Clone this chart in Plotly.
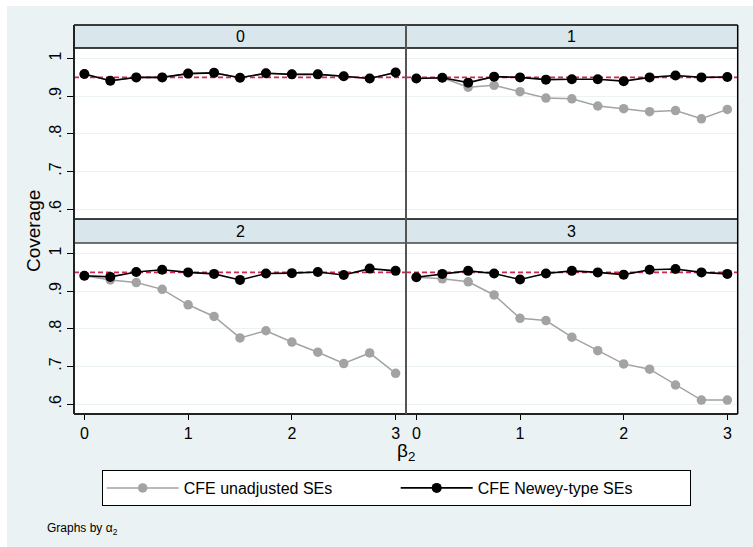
import plotly.graph_objects as go

# ---------------- data ----------------
beta2 = [0, 0.25, 0.5, 0.75, 1, 1.25, 1.5, 1.75, 2, 2.25, 2.5, 2.75, 3]
alpha_labels = ["0", "1", "2", "3"]

unadj_a0 = [0.959, 0.941, 0.950, 0.950, 0.960, 0.962, 0.949, 0.961, 0.958, 0.958, 0.953, 0.947, 0.963]
newey_a0 = [0.959, 0.941, 0.950, 0.950, 0.960, 0.962, 0.949, 0.961, 0.958, 0.958, 0.953, 0.947, 0.963]

unadj_a1 = [0.947, 0.949, 0.924, 0.929, 0.912, 0.895, 0.893, 0.874, 0.867, 0.859, 0.862, 0.840, 0.865]
newey_a1 = [0.947, 0.949, 0.936, 0.952, 0.950, 0.944, 0.945, 0.945, 0.940, 0.950, 0.955, 0.950, 0.951]

unadj_a2 = [0.941, 0.930, 0.923, 0.905, 0.864, 0.833, 0.776, 0.795, 0.765, 0.738, 0.708, 0.736, 0.682]
newey_a2 = [0.941, 0.938, 0.951, 0.957, 0.950, 0.946, 0.930, 0.947, 0.948, 0.951, 0.943, 0.960, 0.954]

unadj_a3 = [0.937, 0.933, 0.925, 0.890, 0.828, 0.822, 0.778, 0.742, 0.707, 0.693, 0.651, 0.611, 0.611]
newey_a3 = [0.937, 0.946, 0.954, 0.947, 0.931, 0.947, 0.954, 0.950, 0.944, 0.957, 0.959, 0.950, 0.946]

nominal = 0.95
y_ticks = [0.6, 0.7, 0.8, 0.9, 1.0]
y_ticklabels = [".6", ".7", ".8", ".9", "1"]
x_ticks = [0, 1, 2, 3]

unadj = [unadj_a0, unadj_a1, unadj_a2, unadj_a3]
newey = [newey_a0, newey_a1, newey_a2, newey_a3]

# ---------------- layout helpers ----------------
W, H = 753, 547
FONT = "Liberation Sans, Arial, sans-serif"
BG = "#EAF2F3"
STRIP = "#D9E6EB"
GREY = "#A3A3A3"
RED = "#D2254F"


def px(x):
    return x / W


def py(y):
    return 1 - y / H


L, M, R = 74, 406, 737.7
top_strip = (25, 48)
top_plot = (48, 219)
bot_strip = (219, 243)
bot_plot = (243, 414)

fig = go.Figure()

panels = [
    ("x", "y", (L, M), top_plot),
    ("x2", "y2", (M, R), top_plot),
    ("x3", "y3", (L, M), bot_plot),
    ("x4", "y4", (M, R), bot_plot),
]

for i, (xa, ya, xd, yd) in enumerate(panels):
    fig.add_trace(go.Scatter(
        x=beta2, y=unadj[i], xaxis=xa, yaxis=ya, mode="lines+markers",
        name="CFE unadjusted SEs", legendgroup="u", showlegend=(i == 0),
        line=dict(color=GREY, width=1.5), marker=dict(color=GREY, size=9.5),
    ))
    fig.add_trace(go.Scatter(
        x=beta2, y=newey[i], xaxis=xa, yaxis=ya, mode="lines+markers",
        name="CFE Newey-type SEs", legendgroup="n", showlegend=(i == 0),
        line=dict(color="black", width=1.6), marker=dict(color="black", size=10),
    ))

layout = dict(
    width=W, height=H,
    margin=dict(l=0, r=0, t=0, b=0),
    paper_bgcolor=BG, plot_bgcolor="white",
    font=dict(family=FONT, size=16, color="black"),
    showlegend=True,
    legend=dict(
        orientation="h", x=px(101.7), xanchor="left", y=py(470), yanchor="top",
        bgcolor="white", bordercolor="black", borderwidth=1,
        font=dict(size=16), entrywidth=207, entrywidthmode="pixels",
        itemwidth=72,
    ),
)

for i, (xa, ya, xd, yd) in enumerate(panels):
    xkey = "xaxis" + ("" if i == 0 else str(i + 1))
    ykey = "yaxis" + ("" if i == 0 else str(i + 1))
    bottom = i >= 2
    left = i % 2 == 0
    layout[xkey] = dict(
        domain=[px(xd[0]), px(xd[1])], anchor=ya, range=[-0.1, 3.1],
        tickvals=x_ticks, showticklabels=bottom,
        ticks="outside" if bottom else "", ticklen=5, tickcolor="black",
        showgrid=False, zeroline=False, showline=False,
        tickfont=dict(size=16),
    )
    layout[ykey] = dict(
        domain=[py(yd[1]), py(yd[0])], anchor=xa, range=[0.574, 1.028],
        tickvals=y_ticks, ticktext=y_ticklabels, showticklabels=left,
        ticks="outside" if left else "", ticklen=6, tickcolor="black",
        tickangle=-90, showgrid=True, gridcolor=BG, gridwidth=1,
        zeroline=False, showline=False, tickfont=dict(size=16),
    )

fig.update_layout(**layout)

# nominal coverage reference line in each panel
for i, (xa, ya, xd, yd) in enumerate(panels):
    fig.add_shape(type="line", xref=xa + " domain", yref=ya, x0=0, x1=1,
                  y0=nominal, y1=nominal, layer="below",
                  line=dict(color=RED, width=1.6, dash="5px,3px"))

shapes = []
# white outer border (left/top)
shapes.append(dict(type="rect", xref="paper", yref="paper", x0=0, x1=px(7), y0=0, y1=1,
                   fillcolor="white", line=dict(width=0), layer="below"))
shapes.append(dict(type="rect", xref="paper", yref="paper", x0=0, x1=1, y0=py(6), y1=1,
                   fillcolor="white", line=dict(width=0), layer="below"))
# strips
for s in (top_strip, bot_strip):
    shapes.append(dict(type="rect", xref="paper", yref="paper", x0=px(L), x1=px(R),
                       y0=py(s[1]), y1=py(s[0]), fillcolor=STRIP, line=dict(width=0),
                       layer="below"))


def hline(y, color="black", w=1.5):
    shapes.append(dict(type="line", xref="paper", yref="paper", x0=px(L), x1=px(R),
                       y0=py(y), y1=py(y), line=dict(color=color, width=w)))


def vline(x, color="black", w=1.5):
    shapes.append(dict(type="line", xref="paper", yref="paper", x0=px(x), x1=px(x),
                       y0=py(414), y1=py(25), line=dict(color=color, width=w)))


hline(25)
hline(48)
hline(219)
hline(243, "#444444")
hline(414, "#222222", 2)
vline(L, "#222222", 2)
vline(R)
vline(M, "#555555", 2)

for s in shapes:
    fig.add_shape(**s)

ann = []
strip_centers = [((L + M) / 2, sum(top_strip) / 2), ((M + R) / 2, sum(top_strip) / 2),
                 ((L + M) / 2, sum(bot_strip) / 2), ((M + R) / 2, sum(bot_strip) / 2)]
for lab, (cx, cy) in zip(alpha_labels, strip_centers):
    ann.append(dict(text=lab, x=px(cx), y=py(cy), xref="paper", yref="paper",
                    showarrow=False, font=dict(size=16), xanchor="center", yanchor="middle"))
ann.append(dict(text="Coverage", x=px(33), y=py(231), xref="paper", yref="paper",
                showarrow=False, textangle=-90, font=dict(size=19),
                xanchor="center", yanchor="middle"))
ann.append(dict(text="β<sub>2</sub>", x=px(406), y=py(452), xref="paper", yref="paper",
                showarrow=False, font=dict(size=19), xanchor="center", yanchor="middle"))
ann.append(dict(text="Graphs by α<sub>2</sub>", x=px(45), y=py(529), xref="paper", yref="paper",
                showarrow=False, font=dict(size=12), xanchor="left", yanchor="middle"))
fig.update_layout(annotations=ann)

fig.write_html("out.html", post_script="document.body.style.margin='0';",
               config={"displayModeBar": False})
